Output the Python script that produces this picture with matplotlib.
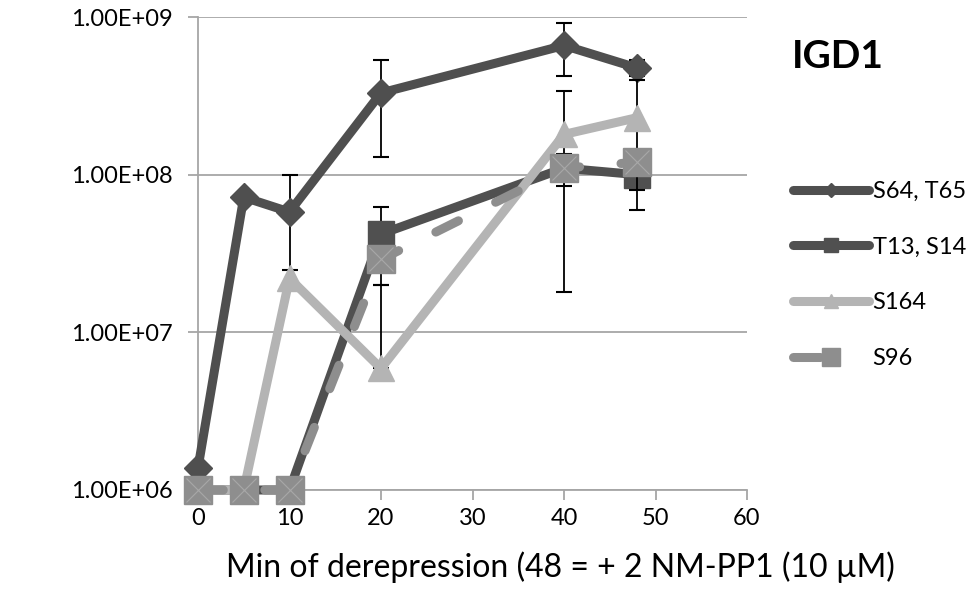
import matplotlib.pyplot as plt
from matplotlib.lines import Line2D
from matplotlib.ticker import FuncFormatter, NullLocator

plt.rcParams['font.family'] = ['Lato', 'DejaVu Sans']

# minutes after derepression (48 = + 2 NM-PP1)
minutes = [0, 5, 10, 20, 40, 48]

s64_t65 = [1.38e6, 7.2e7, 5.8e7, 3.3e8, 6.6e8, 4.75e8]
s64_t65_lo = [0, 0, 3.3e7, 2.0e8, 2.4e8, 5.5e7]
s64_t65_hi = [0, 0, 4.2e7, 2.0e8, 2.6e8, 5.5e7]

t13_s14 = [1e6, 1e6, 1e6, 4.2e7, 1.1e8, 1.0e8]
t13_s14_lo = [0, 0, 0, 2.2e7, 2.5e7, 4.0e7]
t13_s14_hi = [0, 0, 0, 2.0e7, 2.5e7, 2.0e7]

s164 = [1e6, 1e6, 2.2e7, 5.9e6, 1.8e8, 2.3e8]
s164_lo = [0, 0, 0, 0, 1.62e8, 1.5e8]
s164_hi = [0, 0, 0, 1.4e7, 1.6e8, 1.7e8]

s96 = [1e6, 1e6, 1e6, 2.9e7, 1.1e8, 1.2e8]

labels = ['S64, T65', 'T13, S14', 'S164', 'S96']

fig = plt.figure(figsize=(9.68, 6.04), dpi=100)
ax = fig.add_axes([198/968, 1-490/604, 549/968, 473/604])

series = [
    (s64_t65, s64_t65_lo, s64_t65_hi, '#4f4f4f', 'D', 14),
    (t13_s14, t13_s14_lo, t13_s14_hi, '#505050', 's', 19),
    (s164, s164_lo, s164_hi, '#b4b4b4', '^', 19),
    (s96, None, None, '#8e8e8e', 's', 20),
]

for i, (vals, lo, hi, col, mk, ms) in enumerate(series):
    z = 3 + i
    if lo is not None:
        xs = [m for m, a, b in zip(minutes, lo, hi) if a or b]
        ys = [v for v, a, b in zip(vals, lo, hi) if a or b]
        el = [a for a, b in zip(lo, hi) if a or b]
        eh = [b for a, b in zip(lo, hi) if a or b]
        ax.errorbar(xs, ys, yerr=[el, eh], fmt='none', ecolor='black',
                    elinewidth=1.3, capsize=6, capthick=1.5, zorder=z - 0.5)
    kw = dict(color=col, lw=6.5, marker=mk, ms=ms, mec=col, mfc=col,
              label=labels[i], zorder=z, clip_on=False,
              solid_capstyle='round', solid_joinstyle='round')
    if i == 3:
        kw.update(dashes=(2.8, 4.6), dash_capstyle='round')
    ax.plot(minutes, vals, **kw)
    if i == 3:
        ax.plot(minutes, vals, ls='none', marker='x', ms=ms - 3, mew=0.8,
                color='#a8a8a8', zorder=z + 0.1, clip_on=False)

ax.set_yscale('log')
ax.set_ylim(1e6, 1e9)
ax.set_xlim(0, 60)
ax.set_xticks(range(0, 61, 10))
ax.set_yticks([1e6, 1e7, 1e8, 1e9])
ax.yaxis.set_minor_locator(NullLocator())
ax.yaxis.set_major_formatter(FuncFormatter(lambda v, p: f'{v:.2E}'))

ax.yaxis.grid(True, color='#a6a6a6', lw=1.3)
ax.set_axisbelow(True)
for s in ['top', 'right']:
    ax.spines[s].set_visible(False)
for s in ['left', 'bottom']:
    ax.spines[s].set_color('#a6a6a6')
    ax.spines[s].set_linewidth(1.3)
ax.tick_params(axis='both', direction='out', length=7, width=1.3,
               color='#a6a6a6', labelsize=17)
ax.tick_params(axis='y', pad=11)
ax.tick_params(axis='x', pad=6)

ax.set_xlabel('Min of derepression (48 = + 2 NM-PP1 (10 \u00b5M)', fontsize=23)
ax.xaxis.set_label_coords((560 - 198) / 549, -(551 - 490) / 473)

fig.text(838/968, 1 - 57/604, 'IGD1', fontsize=28, fontweight='bold',
         ha='center', va='center')

handles, names = ax.get_legend_handles_labels()
handles[3] = Line2D([], [], color='#8e8e8e', lw=6.5, dashes=(3.0, 12),
                    dash_capstyle='round', marker='s', ms=25)
ax.legend(handles, names, loc='upper left',
          bbox_to_anchor=(793/968, 1 - 181/604),
          bbox_transform=fig.transFigure, frameon=False, fontsize=17,
          handlelength=3.2, handletextpad=0.17, labelspacing=1.47,
          borderpad=0, borderaxespad=0, markerscale=0.5)

fig.savefig('out.png', dpi=100)
